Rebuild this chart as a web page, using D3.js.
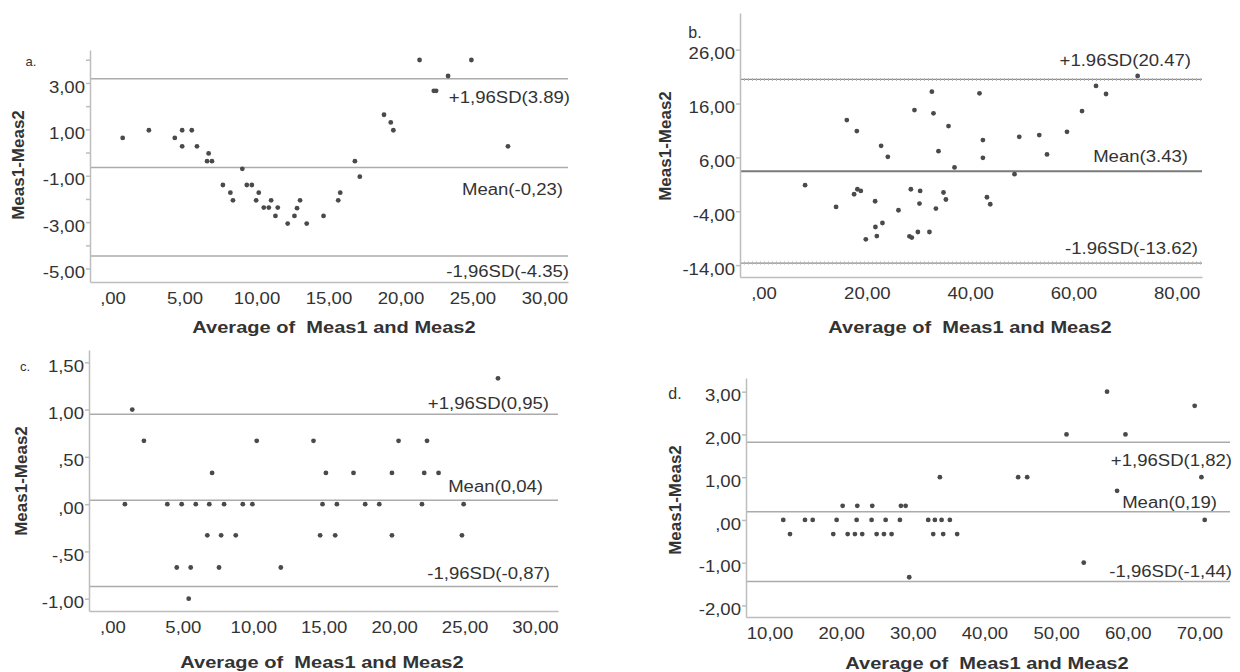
<!DOCTYPE html>
<meta charset="utf-8">
<style>
    html, body { margin: 0; background: #fff; }
    text { font-family: "Liberation Sans", Arial, sans-serif; fill: #333; }
    .axis path, .axis line { stroke: #bdbdbd; stroke-width: 1.5px; }
    .ref { stroke: #ababab; stroke-width: 1.5px; }
    .dark { stroke: #7a7a7a; stroke-width: 2px; }
    .dots { stroke: #8a8a8a; stroke-width: 3px; stroke-dasharray: 1 3; }
    .dot { fill: #4a4a4a; }
    .tick-label { font-size: 16px; }
    .line-label { font-size: 16px; }
    .title { font-size: 17px; font-weight: bold; white-space: pre; }
</style>
<body>
<script src="https://d3js.org/d3.v7.min.js"></script>
<script>
    // ---- panel a ----
    var aAvg = [0.67, 2.49, 4.29, 4.80, 4.80, 5.47, 5.83, 6.64, 6.53, 6.87, 8.98, 7.63, 8.15, 8.33,
        9.29, 9.64, 10.12, 9.94, 10.47, 10.82, 10.98, 11.44, 11.28, 12.13, 12.60, 12.78, 12.99, 13.45,
        14.62, 15.64, 15.78, 16.80, 17.14, 18.82, 19.29, 19.47, 21.29, 24.89, 23.27, 22.28, 22.44, 27.43];
    var aDiff = [0.63, 0.96, 0.63, 0.96, 0.27, 0.96, 0.27, -0.04, -0.37, -0.37, -0.70, -1.40, -1.73, -2.06,
        -1.40, -1.40, -1.73, -2.06, -2.37, -2.37, -2.06, -2.37, -2.73, -3.06, -2.73, -2.40, -2.06, -3.06,
        -2.73, -2.06, -1.73, -0.37, -1.04, 1.63, 1.30, 0.96, 3.99, 3.99, 3.30, 2.66, 2.66, 0.27];
    var aLines = [3.18, -0.64, -4.46];
    var aLineLabels = ["+1,96SD(3.89)", "Mean(-0,23)", "-1,96SD(-4.35)"];
    var aXTicks = [0, 5, 10, 15, 20, 25, 30];
    var aYTicks = [3, 1, -1, -3, -5];

    // ---- panel b ----
    var bAvg = [7.95, 13.95, 16.03, 17.97, 17.44, 18.08, 18.74, 19.71, 21.51, 21.57, 21.84, 22.93, 22.67,
        23.97, 26.03, 28.43, 30.23, 30.10, 28.16, 28.62, 29.79, 32.03, 29.13, 32.50, 32.81, 33.78, 33.28,
        34.75, 35.21, 35.72, 36.88, 41.72, 42.38, 42.38, 43.16, 43.80, 48.50, 49.42, 53.29, 54.79, 58.66,
        61.57, 64.28, 66.22, 72.34];
    var bDiff = [0.84, -3.20, 12.93, 10.88, -0.84, 0.09, -0.22, -9.21, -2.14, -6.92, -8.60, -6.18, 8.15,
        6.10, -3.81, 0.09, -0.22, -2.57, -8.65, -8.89, -7.85, -7.85, 14.79, 18.20, 14.18, 7.16, -3.50,
        -0.52, -1.82, 11.81, 4.13, 17.90, 9.21, 5.92, -1.40, -2.70, 2.88, 9.82, 10.14, 6.55, 10.75,
        14.60, 19.26, 17.77, 21.12];
    var bLines = [20.47, 3.43, -13.62];
    var bLineLabels = ["+1.96SD(20.47)", "Mean(3.43)", "-1.96SD(-13.62)"];
    var bXTicks = [0, 20, 40, 60, 80];
    var bYTicks = [26, 16, 6, -4, -14];

    // ---- panel c ----
    var cAvg = [1.37, 2.20, 10.21, 7.04, 0.85, 3.86, 4.88, 5.88, 6.84, 7.89, 9.22, 9.90, 6.70, 7.68, 8.72,
        4.53, 5.52, 7.53, 11.92, 5.38, 27.34, 14.24, 20.28, 22.30, 15.12, 17.08, 19.81, 22.10, 23.12,
        14.88, 15.90, 17.91, 18.91, 21.94, 24.90, 14.71, 15.78, 19.81, 24.78];
    var cDiff = [1.00, 0.67, 0.67, 0.33, 0, 0, 0, 0, 0, 0, 0, 0, -0.33, -0.33, -0.33,
        -0.67, -0.67, -0.67, -0.67, -1.00, 1.33, 0.67, 0.67, 0.67, 0.33, 0.33, 0.33, 0.33, 0.33,
        0, 0, 0, 0, 0, 0, -0.33, -0.33, -0.33, -0.33];
    var cLines = [0.95, 0.04, -0.87];
    var cLineLabels = ["+1,96SD(0,95)", "Mean(0,04)", "-1,96SD(-0,87)"];
    var cXTicks = [0, 5, 10, 15, 20, 25, 30];
    var cYTicks = [1.5, 1, 0.5, 0, -0.5, -1];

    // ---- panel d ----
    var dAvg = [20.14, 22.18, 24.27, 28.27, 28.93,
        11.85, 14.88, 15.96, 19.30, 22.09, 24.18, 26.14, 28.13, 32.08, 33.01, 33.95, 35.10, 70.67,
        12.79, 18.83, 20.84, 21.85, 22.87, 24.88, 25.90, 26.97, 32.78, 34.17, 36.12,
        29.43, 57.04, 69.27, 51.38, 59.61, 33.71, 44.63, 45.89, 70.21, 58.44, 53.79];
    var dDiff = [0.33, 0.33, 0.33, 0.33, 0.33,
        0, 0, 0, 0, 0, 0, 0, 0, 0, 0, 0, 0, 0,
        -0.33, -0.33, -0.33, -0.33, -0.33, -0.33, -0.33, -0.33, -0.33, -0.33, -0.33,
        -1.34, 3.00, 2.67, 2.00, 2.00, 1.00, 1.00, 1.00, 1.00, 0.68, -1.00];
    var dLines = [1.82, 0.19, -1.44];
    var dLineLabels = ["+1,96SD(1,82)", "Mean(0,19)", "-1,96SD(-1,44)"];
    var dXTicks = [10, 20, 30, 40, 50, 60, 70];
    var dYTicks = [3, 2, 1, 0, -1, -2];

    var width = 1240,
        height = 672;

    var svg = d3.select("body").append("svg")
        .attr("width", width)
        .attr("height", height);

    // SPSS style numbers: ",00", "5,00", "-,50"
    function fmt(v) {
        var s = Math.abs(v).toFixed(2).replace(".", ",");
        if (s.charAt(0) === "0") s = s.slice(1);
        return (v < 0 ? "-" : "") + s;
    }

    var panels = [
        { letter: "a.", avg: aAvg, diff: aDiff, lines: aLines, lineLabels: aLineLabels, xTicks: aXTicks, yTicks: aYTicks,
          minorY: [4, 2, 0, -2, -4],
          left: 90, right: 568, top: 50, bottom: 282, xDomain: [-1.6, 31.6], yDomain: [-5.58, 4.42],
          labelX: [570, 563, 569], labelDy: [19, 22, 15], style: ["ref", "ref", "ref"],
          letterPos: [31, 61, 13], yTitle: [18, 165], xTitle: [334, 327] },
        { letter: "b.", avg: bAvg, diff: bDiff, lines: bLines, lineLabels: bLineLabels, xTicks: bXTicks, yTicks: bYTicks,
          minorY: [],
          left: 740, right: 1202, top: 13, bottom: 277, xDomain: [-4.65, 84.8], yDomain: [-16.2, 32.8],
          labelX: [1191, 1188, 1198], labelDy: [-19, -15, -15], style: ["dotted", "dark", "dotted"],
          letterPos: [695, 32, 16], yTitle: [665, 146], xTitle: [970, 327] },
        { letter: "c.", avg: cAvg, diff: cDiff, lines: cLines, lineLabels: cLineLabels, xTicks: cXTicks, yTicks: cYTicks,
          minorY: [],
          left: 89, right: 558, top: 350, bottom: 611, xDomain: [-1.7, 31.6], yDomain: [-1.13, 1.63],
          labelX: [549, 543, 550], labelDy: [-11, -14, -13], style: ["ref", "ref", "ref"],
          letterPos: [25, 366, 13], yTitle: [21, 481], xTitle: [322, 662] },
        { letter: "d.", avg: dAvg, diff: dDiff, lines: dLines, lineLabels: dLineLabels, xTicks: dXTicks, yTicks: dYTicks,
          minorY: [],
          left: 746, right: 1230, top: 378, bottom: 617, xDomain: [6.65, 74.2], yDomain: [-2.27, 3.32],
          labelX: [1232, 1217, 1232], labelDy: [18, -9, -10], style: ["ref", "ref", "ref"],
          letterPos: [675, 393, 16], yTitle: [675, 500], xTitle: [987, 663] }
    ];

    panels.forEach(drawPanel);

    function drawPanel(p) {
        var x = d3.scaleLinear().domain(p.xDomain).range([p.left, p.right]);
        var y = d3.scaleLinear().domain(p.yDomain).range([p.bottom, p.top]);
        var g = svg.append("g");

        // reference lines (limits of agreement + mean)
        p.lines.forEach(function (v, i) {
            var ly = y(v);
            if (p.style[i] === "dotted") {
                g.append("line").attr("class", "ref")
                    .attr("x1", p.left).attr("x2", p.right).attr("y1", ly).attr("y2", ly)
                    .style("stroke", "#8d8d8d").style("stroke-width", "1.2px");
                g.append("line").attr("class", "dots")
                    .attr("x1", p.left).attr("x2", p.right).attr("y1", ly).attr("y2", ly)
                    .style("stroke", "#b5b5b5");
            } else {
                g.append("line").attr("class", p.style[i])
                    .attr("x1", p.left).attr("x2", p.right).attr("y1", ly).attr("y2", ly);
            }
            g.append("text").attr("class", "line-label")
                .attr("transform", "translate(" + p.labelX[i] + "," + (ly + p.labelDy[i]) + ") scale(1.16,1)")
                .attr("text-anchor", "end")
                .attr("dy", "0.35em")
                .text(p.lineLabels[i]);
        });

        // axes
        g.append("g").attr("class", "axis")
            .attr("transform", "translate(0," + p.bottom + ")")
            .call(d3.axisBottom(x).tickValues(p.xTicks).tickSize(0).tickSizeOuter(0).tickFormat(""));
        g.append("g").attr("class", "axis")
            .attr("transform", "translate(" + p.left + ",0)")
            .call(d3.axisLeft(y).tickValues(p.yTicks.concat(p.minorY)).tickSize(4).tickSizeOuter(0).tickFormat(""));

        // tick labels
        g.selectAll(".xl").data(p.xTicks).enter().append("text")
            .attr("class", "tick-label")
            .attr("transform", function (d) { return "translate(" + x(d) + "," + (p.bottom + 16) + ") scale(1.16,1)"; })
            .attr("text-anchor", "middle")
            .attr("dy", "0.35em")
            .text(fmt);
        g.selectAll(".yl").data(p.yTicks).enter().append("text")
            .attr("class", "tick-label")
            .attr("transform", function (d) { return "translate(" + (p.left - 5) + "," + (y(d) + 4) + ") scale(1.16,1)"; })
            .attr("text-anchor", "end")
            .attr("dy", "0.35em")
            .text(fmt);

        // points
        g.selectAll(".dot").data(d3.zip(p.avg, p.diff)).enter().append("circle")
            .attr("class", "dot")
            .attr("cx", function (d) { return x(d[0]); })
            .attr("cy", function (d) { return y(d[1]); })
            .attr("r", 2.4);

        // titles
        g.append("text").attr("class", "title")
            .attr("transform", "translate(" + p.yTitle[0] + "," + p.yTitle[1] + ") rotate(-90)")
            .attr("text-anchor", "middle")
            .attr("dy", "0.35em")
            .text("Meas1-Meas2");
        g.append("text").attr("class", "title")
            .attr("transform", "translate(" + p.xTitle[0] + "," + p.xTitle[1] + ") scale(1.18,1)")
            .attr("text-anchor", "middle")
            .attr("dy", "0.35em")
            .text("Average of  Meas1 and Meas2");

        g.append("text")
            .attr("x", p.letterPos[0]).attr("y", p.letterPos[1])
            .attr("text-anchor", "middle")
            .attr("dy", "0.35em")
            .style("font-size", p.letterPos[2] + "px")
            .text(p.letter);
    }
</script>
</body>
